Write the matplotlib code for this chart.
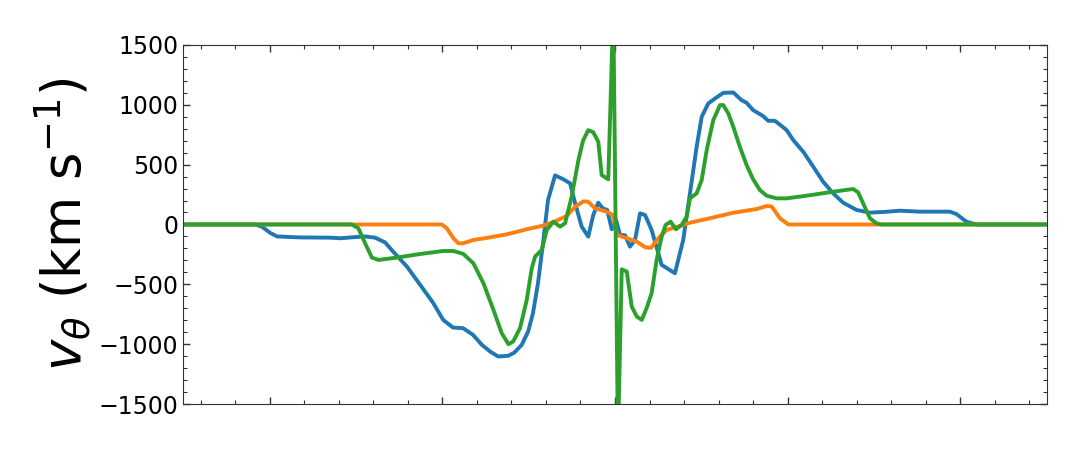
import numpy as np
import matplotlib
matplotlib.use("Agg")
import matplotlib.pyplot as plt
from matplotlib.ticker import MultipleLocator

# rotation velocity profiles (x in arbitrary offset units, v in km/s)
x_blue = [-2.5, -2.083, -2.043, -1.997, -1.956, -1.823, -1.649, -1.591, -1.505, -1.447,
          -1.389, -1.331, -1.285, -1.205, -1.128, -1.053, -0.995, -0.938, -0.880, -0.822,
          -0.771, -0.723, -0.677, -0.619, -0.584, -0.540, -0.503, -0.475, -0.446, -0.417,
          -0.388, -0.347, -0.299, -0.260, -0.231, -0.193, -0.155, -0.126, -0.097, -0.071,
          -0.045, -0.019, 0.006, 0.029, 0.058, 0.087, 0.116, 0.145, 0.174, 0.212,
          0.251, 0.270, 0.347, 0.395, 0.434, 0.473, 0.502, 0.540, 0.579, 0.627,
          0.685, 0.733, 0.762, 0.800, 0.858, 0.887, 0.926, 0.965, 0.994, 1.032,
          1.090, 1.148, 1.205, 1.263, 1.321, 1.399, 1.476, 1.562, 1.649, 1.765,
          1.939, 1.977, 2.035, 2.093, 2.5]
v_blue = [0, 0, -20, -70, -100, -108, -110, -115, -105, -100,
          -110, -150, -226, -351, -504, -654, -796, -860, -865, -921,
          -1004, -1060, -1101, -1096, -1070, -1004, -893, -740, -490, -157,
          204, 410, 377, 343, 177, -18, -101, 79, 182, 135,
          121, -40, 37, -87, -90, -185, -129, 93, 79, -46,
          -240, -337, -407, -129, 260, 650, 898, 1010, 1051, 1098,
          1101, 1037, 1015, 954, 904, 865, 865, 821, 787, 704,
          607, 482, 357, 260, 182, 121, 99, 105, 115, 107,
          107, 87, 23, 0, 0]

x_orange = [-2.5, -1.003, -0.974, -0.936, -0.907, -0.880, -0.820, -0.742, -0.627, -0.511,
            -0.424, -0.357, -0.280, -0.231, -0.183, -0.156, -0.116, -0.048, -0.013, 0.013,
            0.068, 0.126, 0.174, 0.208, 0.251, 0.299, 0.376, 0.434, 0.531, 0.685,
            0.820, 0.878, 0.907, 0.955, 1.003, 2.5]
v_orange = [0, 0, -32, -115, -157, -157, -129, -112, -82, -40,
            -12, 20, 71, 148, 193, 190, 135, 107, 79, -87,
            -115, -143, -190, -195, -115, -46, -12, 15, 46, 98,
            129, 154, 150, 52, 0, 0]

x_green = [-2.5, -1.524, -1.486, -1.447, -1.408, -1.370, -1.263, -1.128, -0.994, -0.936,
           -0.878, -0.820, -0.762, -0.704, -0.656, -0.617, -0.589, -0.550, -0.511, -0.482,
           -0.463, -0.424, -0.395, -0.357, -0.318, -0.289, -0.251, -0.212, -0.185, -0.155,
           -0.126, -0.097, -0.077, -0.039, -0.010, 0.017, 0.039, 0.068, 0.097, 0.126,
           0.155, 0.183, 0.212, 0.241, 0.270, 0.293, 0.322, 0.353, 0.386, 0.415,
           0.434, 0.473, 0.502, 0.531, 0.569, 0.608, 0.627, 0.656, 0.685, 0.723,
           0.762, 0.800, 0.839, 0.878, 0.936, 0.994, 1.109, 1.225, 1.331, 1.379,
           1.408, 1.437, 1.476, 1.514, 1.543, 2.5]
v_green = [0, 0, -32, -157, -276, -296, -276, -246, -221, -221,
           -246, -324, -490, -712, -907, -999, -975, -865, -629, -365,
           -268, -212, -46, 23, -18, 10, 232, 537, 700, 787,
           770, 690, 412, 377, 1800, -1800, -374, -393, -685, -768,
           -796, -698, -573, -296, -101, -4, 23, -40, -4, 65,
           218, 260, 371, 621, 871, 996, 996, 927, 815, 648,
           496, 377, 287, 240, 218, 218, 240, 265, 287, 296,
           268, 176, 52, 10, 0, 0]

fig = plt.figure(figsize=(10.8, 4.5), dpi=100)
ax = fig.add_axes([0.1697, 0.1016, 0.7995, 0.7991])

ax.plot(x_blue, v_blue, color='C0', lw=2.8)
ax.plot(x_orange, v_orange, color='C1', lw=2.8)
ax.plot(x_green, v_green, color='C2', lw=2.8)

ax.set_xlim(-2.5, 2.5)
ax.set_ylim(-1500, 1500)
ax.xaxis.set_major_locator(MultipleLocator(1))
ax.xaxis.set_minor_locator(MultipleLocator(0.2))
ax.yaxis.set_major_locator(MultipleLocator(500))
ax.yaxis.set_minor_locator(MultipleLocator(100))
ax.tick_params(which='both', direction='in', top=True, right=True, labelbottom=False,
               labelsize=17, color='#333333')
ax.tick_params(which='major', length=5, width=1)
ax.tick_params(which='minor', length=3, width=0.8)
for s in ax.spines.values():
    s.set_color('#333333')

ax.set_ylabel(r'$v_\theta$ (km s$^{-1}$)', fontsize=38)

plt.savefig('out.png', dpi=100)
